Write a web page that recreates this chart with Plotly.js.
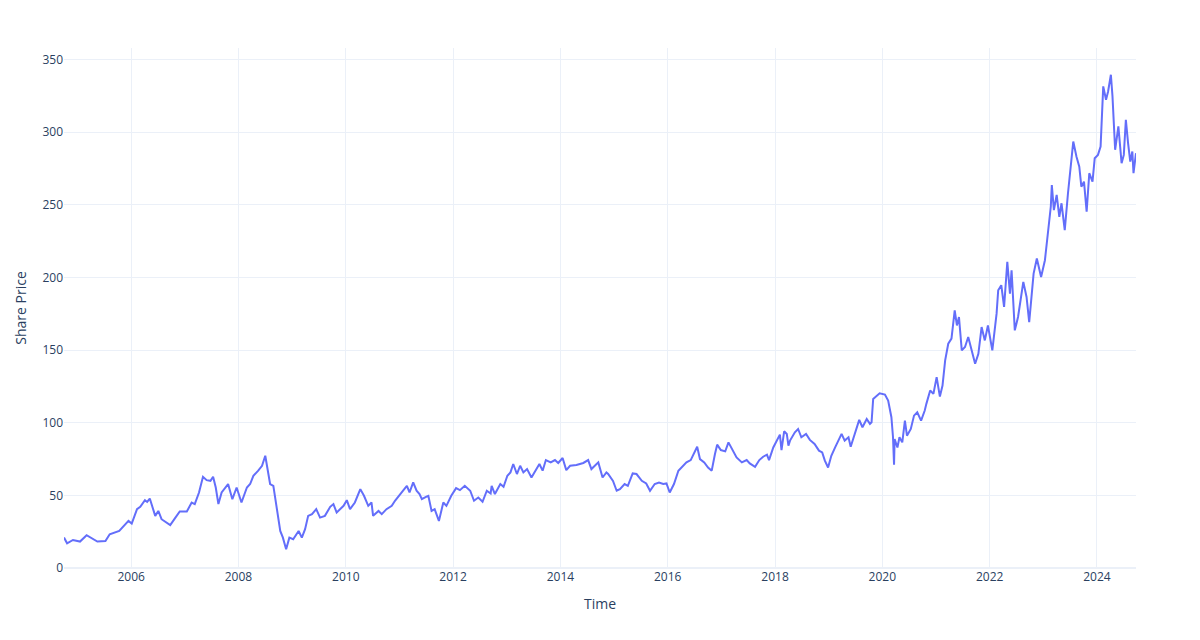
<!DOCTYPE html>
<html>
<head>
<meta charset="utf-8">
<script src="https://cdn.plot.ly/plotly-3.0.1.min.js"></script>
<style>html,body{margin:0;padding:0;background:#fff;}#chart{width:1200px;height:640px;}</style>
</head>
<body>
<div id="chart"></div>
<script>
const dates = [
"2004-10-01","2004-10-22","2004-12-01","2005-01-18","2005-03-04","2005-04-10","2005-05-16","2005-07-10","2005-08-08","2005-10-12",
"2005-11-10","2005-12-14","2006-01-05","2006-02-10","2006-03-04","2006-04-05","2006-04-20","2006-05-08","2006-06-14","2006-07-05",
"2006-07-27","2006-09-24","2006-10-27","2006-11-28","2007-01-15","2007-02-17","2007-03-10","2007-04-08","2007-05-05","2007-05-30",
"2007-06-25","2007-07-13","2007-07-31","2007-08-18","2007-09-09","2007-10-23","2007-11-21","2007-12-20","2008-01-22","2008-02-28",
"2008-03-21","2008-04-12","2008-05-15","2008-06-10","2008-07-02","2008-07-13","2008-08-04","2008-08-26","2008-09-13","2008-09-27",
"2008-10-12","2008-10-30","2008-11-21","2008-12-13","2009-01-08","2009-02-14","2009-03-08","2009-03-30","2009-04-20","2009-05-16",
"2009-06-14","2009-07-10","2009-08-12","2009-09-17","2009-10-09","2009-10-31","2009-12-17","2010-01-08","2010-01-30","2010-03-04",
"2010-04-10","2010-05-05","2010-06-03","2010-06-25","2010-07-06","2010-08-12","2010-09-03","2010-10-05","2010-11-10","2010-12-02",
"2011-01-04","2011-01-26","2011-02-21","2011-03-11","2011-04-05","2011-04-28","2011-05-18","2011-06-03","2011-07-04","2011-07-17",
"2011-08-08","2011-08-29","2011-09-27","2011-10-27","2011-11-17","2011-12-20","2012-01-22","2012-02-17","2012-03-21","2012-04-27",
"2012-05-23","2012-06-21","2012-07-20","2012-08-18","2012-09-13","2012-09-20","2012-10-12","2012-11-18","2012-12-10","2013-01-05",
"2013-01-26","2013-02-14","2013-03-11","2013-04-02","2013-04-24","2013-05-19","2013-06-18","2013-07-24","2013-08-11","2013-09-02",
"2013-09-24","2013-10-27","2013-11-25","2013-12-17","2014-01-16","2014-02-10","2014-03-08","2014-04-20","2014-06-06","2014-07-09",
"2014-07-31","2014-09-16","2014-10-15","2014-11-10","2014-11-22","2014-12-25","2015-01-19","2015-02-10","2015-03-14","2015-04-05",
"2015-05-08","2015-06-03","2015-07-09","2015-08-08","2015-09-03","2015-10-05","2015-11-03","2015-12-02","2015-12-24","2016-01-15",
"2016-02-13","2016-03-14","2016-04-12","2016-05-08","2016-06-06","2016-06-24","2016-07-20","2016-08-08","2016-09-06","2016-10-02",
"2016-10-27","2016-11-18","2016-12-03","2016-12-28","2017-01-27","2017-02-18","2017-03-12","2017-04-14","2017-05-20","2017-06-22",
"2017-07-13","2017-08-18","2017-09-16","2017-10-12","2017-11-07","2017-11-21","2017-12-20","2018-01-12","2018-02-03","2018-02-14",
"2018-03-04","2018-03-22","2018-04-02","2018-04-13","2018-05-16","2018-06-07","2018-06-29","2018-07-31","2018-08-26","2018-09-27",
"2018-10-27","2018-11-18","2018-12-06","2018-12-28","2019-01-19","2019-02-14","2019-03-08","2019-03-30","2019-04-20","2019-05-16",
"2019-05-31","2019-06-29","2019-07-28","2019-08-19","2019-09-17","2019-10-09","2019-10-20","2019-10-31","2019-11-22","2019-12-14",
"2020-01-19","2020-02-10","2020-03-03","2020-03-14","2020-03-21","2020-03-25","2020-04-13","2020-04-27","2020-05-16","2020-06-03",
"2020-06-17","2020-07-13","2020-08-04","2020-08-26","2020-09-21","2020-10-16","2020-10-27","2020-11-22","2020-12-14","2021-01-05",
"2021-01-27","2021-02-14","2021-03-04","2021-03-25","2021-04-16","2021-05-08","2021-05-23","2021-06-06","2021-06-25","2021-07-17",
"2021-08-08","2021-08-29","2021-09-24","2021-10-16","2021-11-07","2021-11-29","2021-12-20","2022-01-19","2022-02-17","2022-02-28",
"2022-03-21","2022-04-09","2022-05-01","2022-05-19","2022-05-30","2022-06-21","2022-07-13","2022-08-18","2022-09-09","2022-09-27",
"2022-10-12","2022-10-27","2022-11-18","2022-12-17","2023-01-12","2023-02-03","2023-02-21","2023-02-28","2023-03-14","2023-04-02",
"2023-04-20","2023-05-05","2023-05-27","2023-06-18","2023-07-06","2023-07-24","2023-08-15","2023-09-03","2023-09-17","2023-10-05",
"2023-10-23","2023-11-10","2023-12-02","2023-12-17","2024-01-08","2024-01-26","2024-02-13","2024-03-03","2024-03-17","2024-04-05",
"2024-04-16","2024-05-04","2024-05-26","2024-06-17","2024-07-02","2024-07-16","2024-07-31","2024-08-15","2024-08-29","2024-09-06",
"2024-09-23"
];
const prices = [
21,17,19.3,18.2,22.6,20.2,18.2,18.6,23.2,25.5,
29,32.4,30.6,40.5,42.1,46.7,45.5,47.8,35.9,39.3,
33.6,29.5,34.3,38.9,38.9,45,44,52,62.8,60.5,
60,62.8,55.4,44,52,57.8,47.4,55.4,45.1,55.4,
57.8,63.5,67,70.4,77.3,71.6,57.8,56.6,45.1,34.7,
25.5,20.9,12.9,20.9,19.8,25.5,20.9,26.7,35.9,37.1,
40.5,34.7,35.9,42.1,44,38.2,42.8,46.7,40.5,45.1,
54.3,49.7,42.8,45.1,35.9,39.3,37.1,40.5,42.8,46.3,
50.9,53.2,56.6,52,58.9,53.2,50.9,47.4,49.2,49.7,
39.3,40.5,32.4,45.1,42.8,49.7,55,53.6,56.6,53.2,
46.3,48.5,45.6,53.2,51.3,56.6,50.9,57.8,55.9,63.5,
65.8,71.6,64.7,70.4,65.8,68.1,62.3,68.1,71.6,67,
74.3,72.7,74.3,72.3,75.7,67.4,70.4,70.9,72.3,74.3,
68.1,72.7,62.3,65.8,64.7,60,53.2,54.3,57.8,56.6,
65.1,64.7,60,58.2,53.2,57.8,58.9,57.8,58.2,52,
57.8,67,70.4,72.7,74.3,78.5,83.5,75,72.7,69.2,
67,78.5,84.9,81.2,80.3,86.5,81.9,76.1,72.7,74.3,
72,69.7,74.3,76.6,78,74.3,83,87.7,91.8,81.2,
94.1,92.3,84.2,87.7,93.4,95.7,90,92.3,88.2,85.4,
80.8,79.6,73.9,69.2,77.3,83,87.7,92.3,87.7,90,
83.5,93.4,102,96.9,102.6,99.2,100.3,116.4,118.7,120.3,
119.4,115.3,103.8,90,71.1,88.8,83,90,86.5,101.5,
91.1,95.7,104.9,107.2,101.5,108.4,113,122.2,119.9,131.4,
118,125.6,142.9,154.4,157.9,177.4,167,172.8,149.8,152.1,
159,149.8,140.6,147.5,165.9,156.7,167,149.8,175.1,191.2,
194.7,179.7,210.8,188.9,205,163.6,172.8,197,186.6,169.3,
188.9,202.7,213.1,200.4,211.9,232.6,248.7,263.7,246.4,256.8,
241.8,251.1,232.6,258,274.1,293.6,283.2,276.3,262.5,266,
245.3,271.8,266,282.1,284.4,290.1,331.6,322.4,328.1,339.6,
324.7,287.9,304,278.7,284.4,308.6,292.5,279.8,286.7,271.8,
285.6
];
const xTitle = "Time";
const yTitle = "Share Price";

const trace = {
  x: dates, y: prices, type: "scatter", mode: "lines",
  line: {color: "#636efa", width: 2}
};
const grid = "#EBF0F8";
const layout = {
  width: 1200, height: 640,
  margin: {l: 64, r: 64, t: 48, b: 72},
  paper_bgcolor: "#ffffff", plot_bgcolor: "#ffffff",
  font: {family: '"Open Sans", verdana, arial, sans-serif', size: 12, color: "#2a3f5f"},
  showlegend: false,
  xaxis: {
    type: "date", title: {text: xTitle, standoff: 15},
    gridcolor: grid, linecolor: grid, zerolinecolor: grid, zerolinewidth: 2,
    showline: false, ticks: "", automargin: false
  },
  yaxis: {
    title: {text: yTitle}, range: [0, 358], dtick: 50,
    gridcolor: grid, linecolor: grid, zerolinecolor: grid, zerolinewidth: 2,
    showline: false, ticks: "", automargin: false, zeroline: true
  }
};
Plotly.newPlot("chart", [trace], layout, {displayModeBar: false, staticPlot: true});
</script>
</body>
</html>
